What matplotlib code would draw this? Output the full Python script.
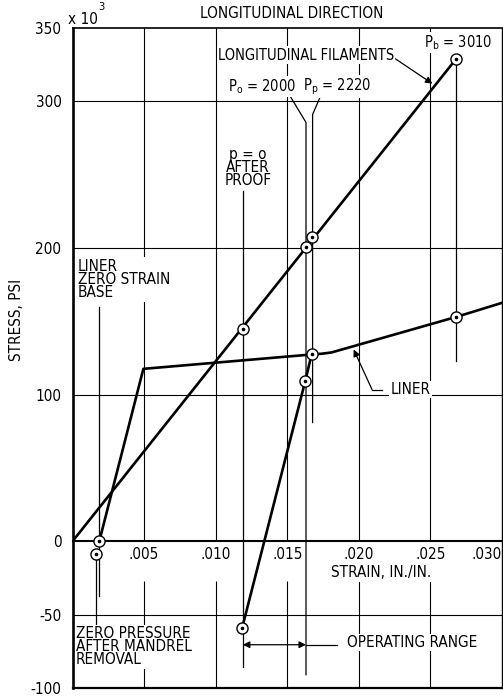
import matplotlib
matplotlib.use("Agg")
import matplotlib.pyplot as plt
from matplotlib import font_manager
from matplotlib.ticker import FixedLocator, FixedFormatter


def pick_font():
    flist = font_manager.fontManager.ttflist
    names = {f.name for f in flist}
    if 'Liberation Sans Narrow' in names:
        return 'Liberation Sans Narrow', 'normal', 12
    for f in flist:
        if f.name == 'DejaVu Sans' and ('Condensed' in f.fname or str(f.stretch) == 'condensed'):
            return 'DejaVu Sans', 'condensed', 11
    for n in ['Roboto Condensed', 'Open Sans Condensed', 'Noto Sans Condensed']:
        if n in names:
            return n, 'normal', 11
    return 'Liberation Sans', 'normal', 10.5


FONT, STRETCH, FS = pick_font()
plt.rcParams['font.family'] = [FONT, 'DejaVu Sans']
plt.rcParams['font.stretch'] = STRETCH
plt.rcParams['mathtext.fontset'] = 'custom'
plt.rcParams['mathtext.rm'] = f'{FONT}:stretch={STRETCH}'
plt.rcParams['mathtext.it'] = f'{FONT}:stretch={STRETCH}'

# ---------------- data (strain in in./in., stress in ksi) ----------------
filament_strain = [0.0, 0.0268]
filament_stress = [0.0, 329.0]

liner_strain = [0.00187, 0.00495, 0.0167, 0.0174, 0.0181, 0.0268, 0.0300]
liner_stress = [0.0, 117.6, 127.4, 127.9, 128.8, 153.0, 162.6]

unload_strain = [0.01185, 0.01626, 0.0167]
unload_stress = [-59.0, 109.4, 127.4]

circle_strain = [0.0119, 0.01628, 0.01675, 0.0268, 0.00187, 0.0167, 0.0268, 0.01185, 0.01626, 0.00164]
circle_stress = [145.0, 201.0, 207.4, 329.0, 0.0, 127.4, 153.0, -59.0, 109.4, -8.6]

x_ticks = [0.005, 0.010, 0.015, 0.020, 0.025, 0.030]
x_labels = ['.005', '.010', '.015', '.020', '.025', '.030']
y_ticks = [-100, -50, 0, 100, 200, 300, 350]
y_labels = ['-100', '-50', '0', '100', '200', '300', '350']
y_grid = [-50, 100, 200, 300]
x_grid = [0.005, 0.010, 0.015, 0.020, 0.025]

p_after_proof = 0.0119
p_o_strain = 0.01631
p_p_strain = 0.01677
p_b_strain = 0.0268
liner_base_strain = 0.00187
zero_press_strain = 0.00164

fig = plt.figure(figsize=(5.03, 6.99), dpi=100)
ax = fig.add_axes([72.5 / 503, 11 / 699, 429.5 / 503, 660 / 699])
ax.set_xlim(0, 0.030)
ax.set_ylim(-100, 350)

# spines
ax.spines['bottom'].set_position(('data', 0))
ax.spines['bottom'].set_linewidth(1.5)
ax.spines['left'].set_linewidth(1.9)
ax.spines['top'].set_linewidth(1.2)
ax.spines['right'].set_linewidth(1.0)
ax.axhline(-100, color='black', lw=1.6, clip_on=False, zorder=5)

# ticks
ax.xaxis.set_major_locator(FixedLocator(x_ticks))
ax.xaxis.set_major_formatter(FixedFormatter(x_labels))
ax.yaxis.set_major_locator(FixedLocator(y_ticks))
ax.yaxis.set_major_formatter(FixedFormatter(y_labels))
ax.tick_params(axis='x', length=0, pad=4, labelsize=FS)
ax.tick_params(axis='y', length=0, pad=8, labelsize=FS)
fig.canvas.draw()
ax.get_xticklabels()[-1].set_horizontalalignment('right')

# grid
for yg in y_grid:
    ax.axhline(yg, color='black', lw=0.8, zorder=1)
for xg in x_grid:
    ax.vlines(xg, 0, 350, color='black', lw=0.8, zorder=1)
    ax.vlines(xg, -100, -27, color='black', lw=0.8, zorder=1)

# labels
ax.set_ylabel('STRESS, PSI', fontsize=FS)
ax.yaxis.set_label_coords(-0.112, 0.558)
ax.set_xlabel('STRAIN, IN./IN.', fontsize=FS,
              bbox=dict(facecolor='white', edgecolor='none', pad=1))
ax.xaxis.set_label_coords(0.718, 0.186)
fig.text(292 / 503, 1 - 13 / 699, 'LONGITUDINAL DIRECTION', ha='center', va='center', fontsize=FS)
ax.text(-0.0003, 356, 'x 10', fontsize=FS, ha='left', va='center', clip_on=False)
ax.text(0.00178, 364, '3', fontsize=FS - 3, ha='left', va='center', clip_on=False)

# curves
ax.plot(filament_strain, filament_stress, color='black', lw=1.9, zorder=3, solid_capstyle='round')
ax.plot(liner_strain, liner_stress, color='black', lw=1.9, zorder=3, solid_capstyle='round')
ax.plot(unload_strain, unload_stress, color='black', lw=1.9, zorder=3, solid_capstyle='round')

# leader lines
lk = dict(color='black', lw=0.9, zorder=2)
ax.plot([liner_base_strain, liner_base_strain], [160, -37], **lk)
ax.plot([zero_press_strain, zero_press_strain], [-8.6, -58], **lk)
ax.plot([p_after_proof, p_after_proof], [239, -86], **lk)
ax.plot([0.01500, p_o_strain, p_o_strain], [306.8, 285.6, -91], **lk)
ax.plot([0.01743, p_p_strain, p_p_strain], [306.0, 291, 81], **lk)
ax.plot([p_b_strain, p_b_strain], [329, 123], **lk)

# circles
ax.plot(circle_strain, circle_stress, ls='none', marker='o', ms=8, mfc='white',
        mec='black', mew=1.0, zorder=4)
ax.plot(circle_strain, circle_stress, ls='none', marker='o', ms=1.6, color='black', zorder=5)

# texts
FP = FS - 0.5
tb = dict(facecolor='white', edgecolor='none', pad=1)
ax.text(0.01017, 331.3, 'LONGITUDINAL FILAMENTS', fontsize=FP, ha='left', va='center', bbox=tb, zorder=2)
ax.annotate('', xy=(0.0253, 311), xytext=(0.0224, 330),
            arrowprops=dict(arrowstyle='-|>', color='black', lw=0.9, mutation_scale=10), zorder=3)
ax.text(0.02455, 340, r'P$_\mathrm{b}$ = 3010', fontsize=FP, ha='left', va='center', bbox=tb, zorder=2)
ax.text(0.01085, 310, r'P$_\mathrm{o}$ = 2000', fontsize=FP, ha='left', va='center', bbox=tb, zorder=2)
ax.text(0.01610, 310, r'P$_\mathrm{p}$ = 2220', fontsize=FP, ha='left', va='center', bbox=tb, zorder=2)
ax.text(0.01227, 255, 'p = o\nAFTER\nPROOF', fontsize=FS, ha='center', va='center',
        linespacing=0.85, bbox=tb, zorder=2)
ax.text(0.00038, 178.5, 'LINER\nZERO STRAIN\nBASE', fontsize=FS, ha='left', va='center',
        linespacing=0.85, bbox=tb, zorder=2)
ax.text(0.00025, -71.9, 'ZERO PRESSURE\nAFTER MANDREL\nREMOVAL', fontsize=FS, ha='left', va='center',
        linespacing=0.85, bbox=tb, zorder=2)
ax.text(0.0222, 103.5, 'LINER', fontsize=FS, ha='left', va='center', bbox=tb, zorder=2)
ax.plot([0.02162, 0.02092], [103.5, 103.5], **lk)
ax.annotate('', xy=(0.01964, 130.8), xytext=(0.02092, 103.5),
            arrowprops=dict(arrowstyle='-|>', color='black', lw=0.9, mutation_scale=10, shrinkA=0, shrinkB=0), zorder=3)
ax.text(0.01917, -69, 'OPERATING RANGE', fontsize=FS, ha='left', va='center', bbox=tb, zorder=2)
ax.annotate('', xy=(p_after_proof, -70.5), xytext=(p_o_strain, -70.5),
            arrowprops=dict(arrowstyle='<|-|>', color='black', lw=0.9, mutation_scale=10, shrinkA=0, shrinkB=0), zorder=3)
ax.plot([p_o_strain, 0.01848], [-70.5, -70.5], **lk)

fig.savefig('out.png', dpi=100)
